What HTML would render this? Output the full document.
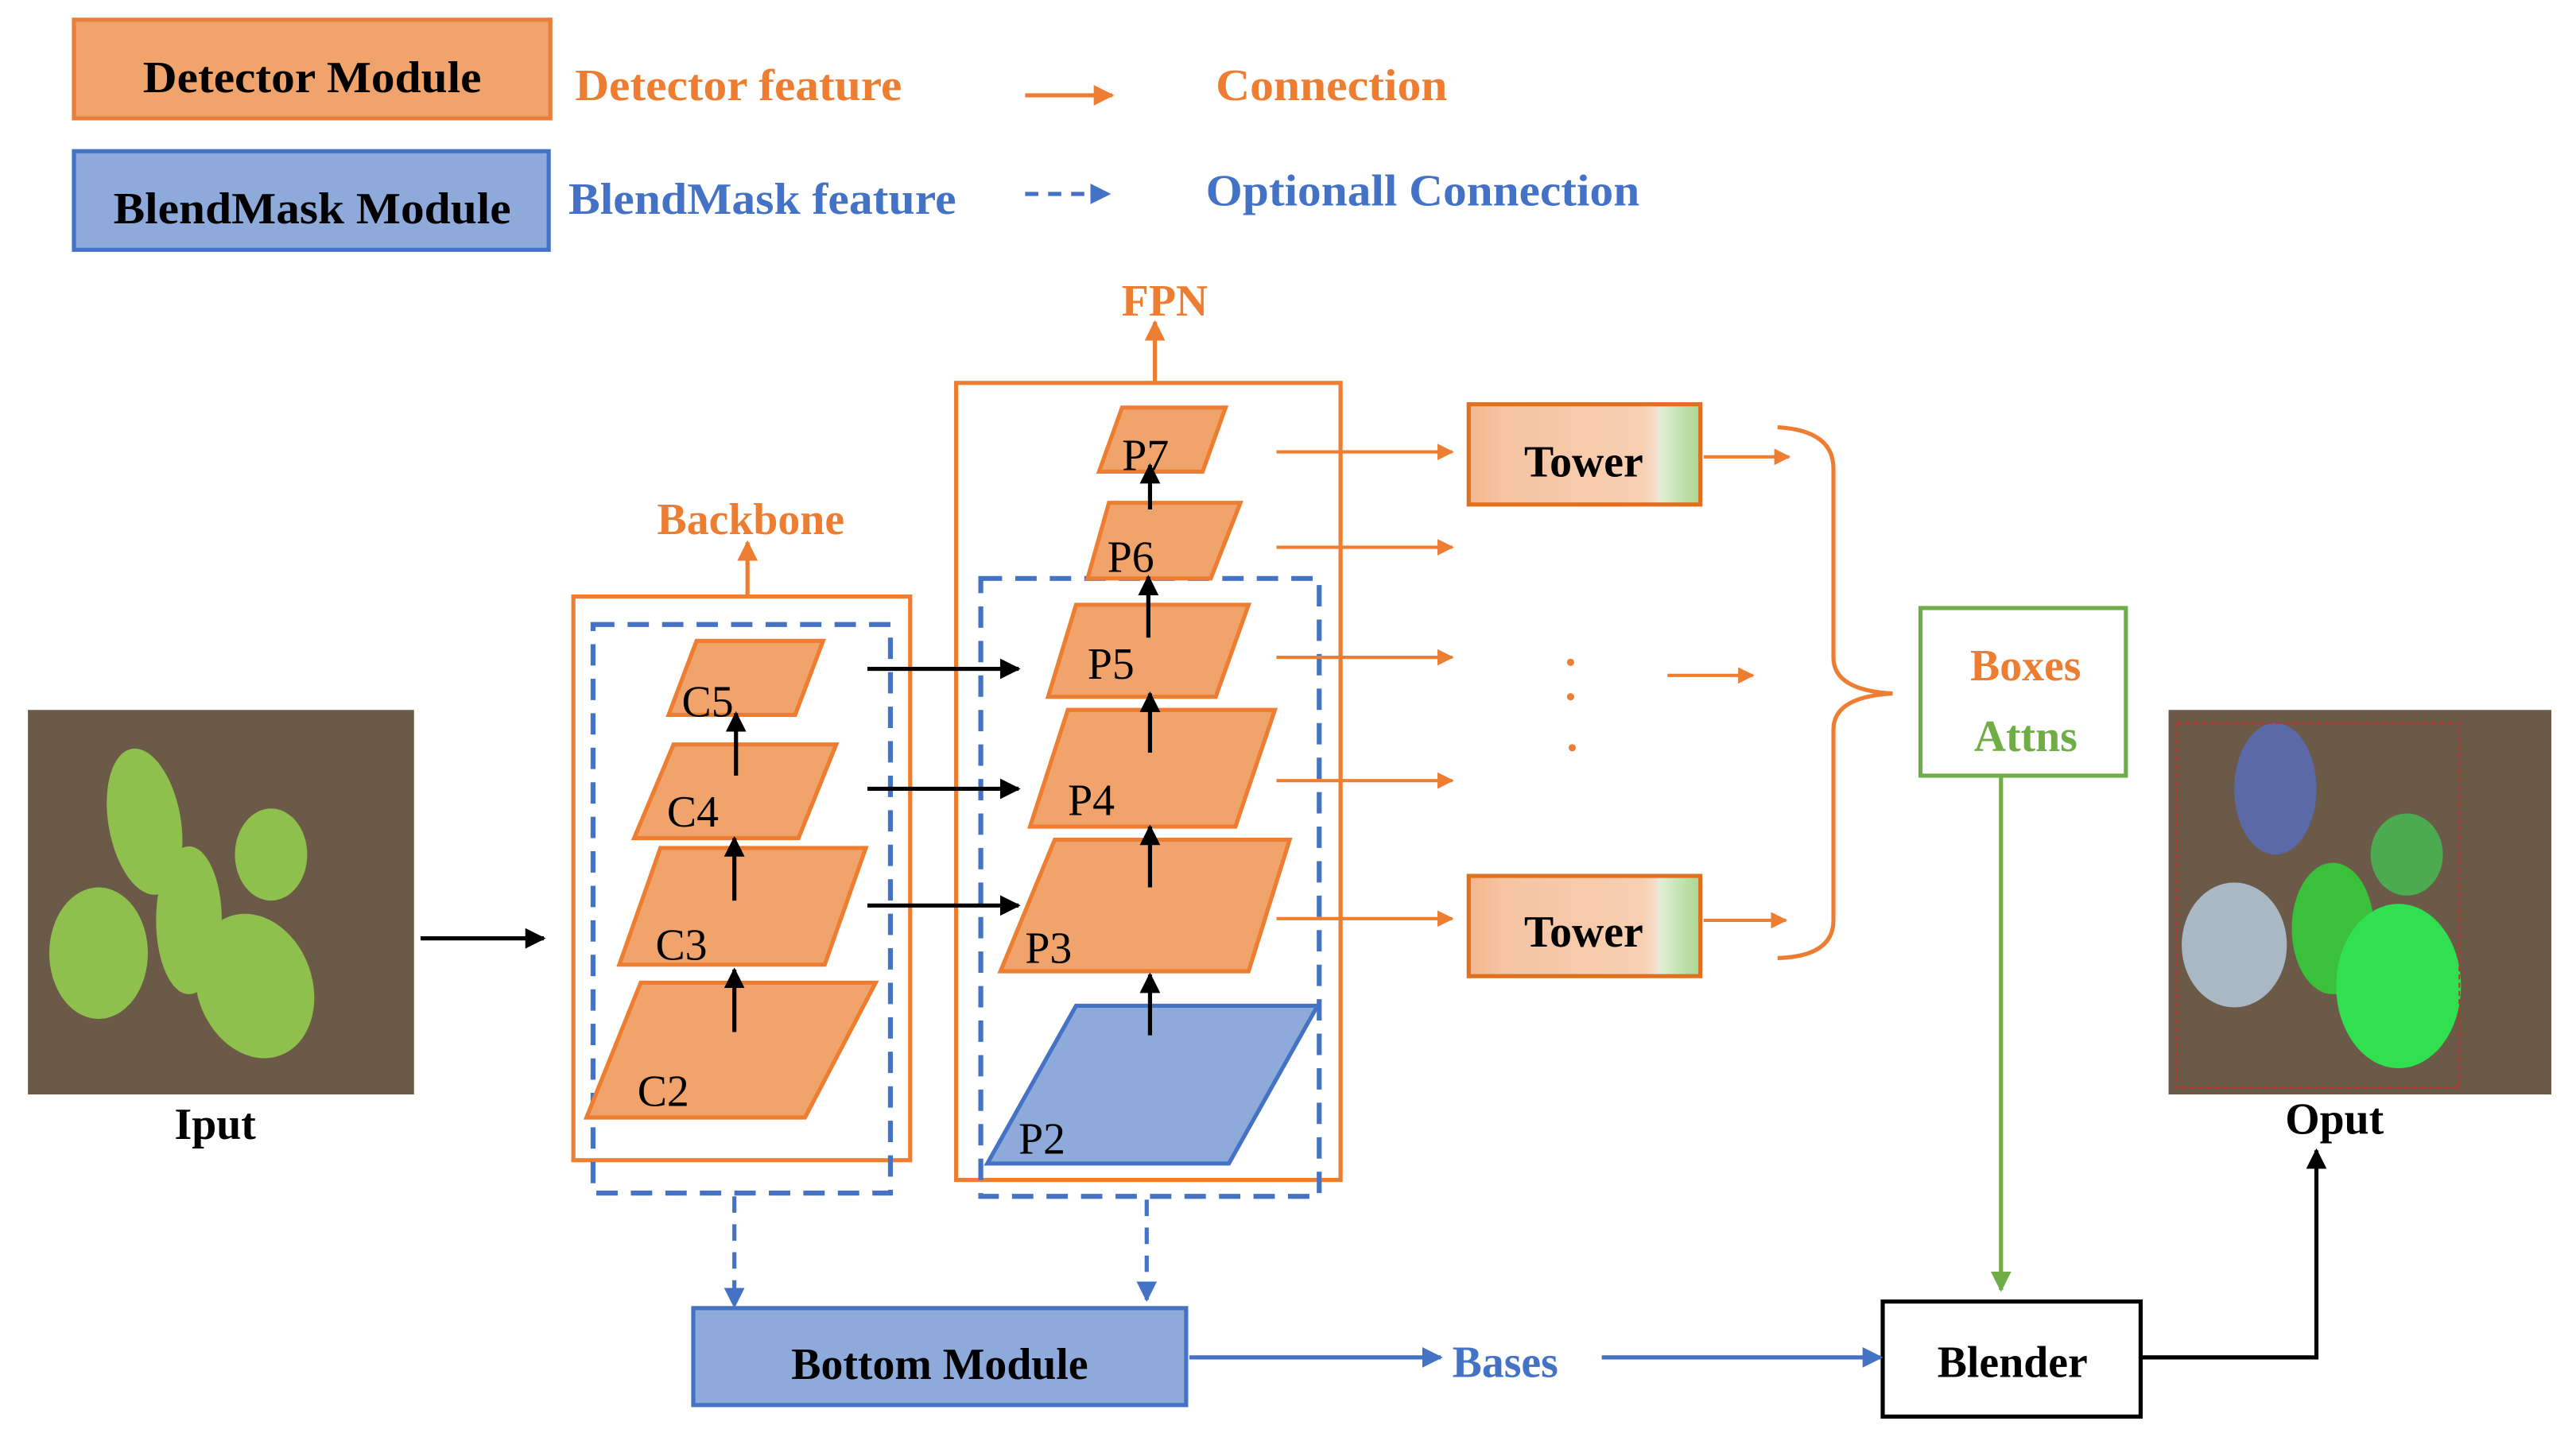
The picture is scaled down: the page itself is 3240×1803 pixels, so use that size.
<!DOCTYPE html>
<html><head><meta charset="utf-8"><style>html,body{margin:0;padding:0;background:#fff}svg{display:block}</style></head>
<body>
<svg width="3240" height="1803" viewBox="0 0 1568 872" preserveAspectRatio="none" xmlns="http://www.w3.org/2000/svg" font-family="Liberation Serif, serif">
<defs>
<marker id="ao" viewBox="0 0 10 10" refX="9" refY="5" markerWidth="5" markerHeight="5" orient="auto"><path d="M0,0L10,5L0,10z" fill="#ed7d31"/></marker>
<marker id="ab" viewBox="0 0 10 10" refX="9" refY="5" markerWidth="5" markerHeight="5" orient="auto"><path d="M0,0L10,5L0,10z" fill="#000"/></marker>
<marker id="abl" viewBox="0 0 10 10" refX="9" refY="5" markerWidth="5" markerHeight="5" orient="auto"><path d="M0,0L10,5L0,10z" fill="#4472c4"/></marker>
<marker id="ag" viewBox="0 0 10 10" refX="9" refY="5" markerWidth="5" markerHeight="5" orient="auto"><path d="M0,0L10,5L0,10z" fill="#70ad47"/></marker>
<linearGradient id="tg" x1="0" x2="1" y1="0" y2="0">
<stop offset="0" stop-color="#f4b68c"/><stop offset="0.15" stop-color="#f5c4a2"/><stop offset="0.75" stop-color="#f6cfb2"/><stop offset="0.82" stop-color="#f8e0d0"/><stop offset="0.82" stop-color="#e0f0d8"/><stop offset="1" stop-color="#a9d68e"/></linearGradient>
</defs>
<g font-size="27" font-weight="bold">
<rect x="45" y="12" width="290" height="60" fill="#f0a46c" stroke="#e87e3a" stroke-width="2.5"/>
<text x="190" y="56" text-anchor="middle" textLength="206" lengthAdjust="spacingAndGlyphs">Detector Module</text>
<rect x="45" y="92" width="289" height="60" fill="#8eaadb" stroke="#4472c4" stroke-width="2.5"/>
<text x="190" y="136" text-anchor="middle" textLength="242" lengthAdjust="spacingAndGlyphs">BlendMask Module</text>
<text x="350" y="61" fill="#ed7d31" textLength="199" lengthAdjust="spacingAndGlyphs">Detector feature</text>
<text x="740" y="61" fill="#ed7d31" textLength="141" lengthAdjust="spacingAndGlyphs">Connection</text>
<text x="346" y="130" fill="#4472c4" textLength="236" lengthAdjust="spacingAndGlyphs">BlendMask feature</text>
<text x="734" y="125" fill="#4472c4" textLength="264" lengthAdjust="spacingAndGlyphs">Optionall Connection</text>
</g>
<line x1="624" y1="58" x2="677" y2="58" stroke="#ed7d31" stroke-width="2.5" marker-end="url(#ao)"/>
<line x1="624" y1="118" x2="675" y2="118" stroke="#4472c4" stroke-width="2.5" stroke-dasharray="8,6" marker-end="url(#abl)"/>
<text x="709" y="192" text-anchor="middle" font-size="27" font-weight="bold" fill="#ed7d31">FPN</text>
<line x1="703" y1="233" x2="703" y2="196" stroke="#ed7d31" stroke-width="2.5" marker-end="url(#ao)"/>
<rect x="582" y="233" width="234" height="485" fill="none" stroke="#ed7d31" stroke-width="2.5"/>
<text x="457" y="325" text-anchor="middle" font-size="27" font-weight="bold" fill="#ed7d31">Backbone</text>
<line x1="455" y1="363" x2="455" y2="330" stroke="#ed7d31" stroke-width="2.5" marker-end="url(#ao)"/>
<rect x="349" y="363" width="205" height="343" fill="none" stroke="#ed7d31" stroke-width="2.5"/>
<rect x="361" y="380" width="181" height="346" fill="none" stroke="#4472c4" stroke-width="3" stroke-dasharray="13,8"/>
<rect x="597" y="352" width="206" height="376" fill="none" stroke="#4472c4" stroke-width="3" stroke-dasharray="13,8"/>
<g fill="#f0a46c" stroke="#ed7d31" stroke-width="2.5">
<polygon points="424,390 501,390 484,435 407,435"/>
<polygon points="410,453 509,453 486,510 386,510"/>
<polygon points="402,516 527,516 502,587 377,587"/>
<polygon points="390,598 533,598 490,680 357,680"/>
<polygon points="683,248 746,248 732,287 669,287"/>
<polygon points="675,306 755,306 737,352 662,352"/>
<polygon points="655,368 760,368 740,424 638,424"/>
<polygon points="650,432 776,432 752,503 627,503"/>
<polygon points="642,511 785,511 760,591 609,591"/>
</g>
<polygon points="655,612 802,612 748,708 601,708" fill="#8eaadb" stroke="#4472c4" stroke-width="2.5"/>
<g font-size="27">
<text x="415" y="436">C5</text><text x="406" y="503">C4</text><text x="399" y="584">C3</text><text x="388" y="673">C2</text>
<text x="683" y="286">P7</text><text x="674" y="348">P6</text><text x="662" y="413">P5</text><text x="650" y="496">P4</text><text x="624" y="586">P3</text><text x="620" y="702">P2</text>
</g>
<g stroke="#000" stroke-width="2.5" marker-end="url(#ab)">
<line x1="447" y1="628" x2="447" y2="590"/>
<line x1="447" y1="548" x2="447" y2="510"/>
<line x1="448" y1="472" x2="448" y2="434"/>
<line x1="700" y1="630" x2="700" y2="593"/>
<line x1="700" y1="540" x2="700" y2="503"/>
<line x1="700" y1="458" x2="700" y2="422"/>
<line x1="699" y1="388" x2="699" y2="351"/>
<line x1="700" y1="310" x2="700" y2="283"/>
<line x1="528" y1="407" x2="620" y2="407"/>
<line x1="528" y1="480" x2="620" y2="480"/>
<line x1="528" y1="551" x2="620" y2="551"/>
<line x1="256" y1="571" x2="331" y2="571"/>
</g>
<g stroke="#ed7d31" stroke-width="2" marker-end="url(#ao)">
<line x1="777" y1="275" x2="884" y2="275"/>
<line x1="777" y1="333" x2="884" y2="333"/>
<line x1="777" y1="400" x2="884" y2="400"/>
<line x1="777" y1="475" x2="884" y2="475"/>
<line x1="777" y1="559" x2="884" y2="559"/>
<line x1="1037" y1="278" x2="1089" y2="278"/>
<line x1="1037" y1="560" x2="1087" y2="560"/>
<line x1="1015" y1="411" x2="1067" y2="411"/>
</g>
<rect x="894" y="246" width="141" height="61" fill="url(#tg)" stroke="#e0701e" stroke-width="2.5"/>
<text x="964" y="290" text-anchor="middle" font-size="27" font-weight="bold">Tower</text>
<rect x="894" y="533" width="141" height="61" fill="url(#tg)" stroke="#e0701e" stroke-width="2.5"/>
<text x="964" y="576" text-anchor="middle" font-size="27" font-weight="bold">Tower</text>
<g fill="#ed7d31"><circle cx="956" cy="403" r="2.2"/><circle cx="956" cy="424" r="2.2"/><circle cx="957" cy="455" r="2.2"/></g>
<path d="M1082,260 Q1116,262 1116,285 L1116,400 Q1116,420 1152,422 Q1116,424 1116,444 L1116,560 Q1116,582 1082,583" fill="none" stroke="#ed7d31" stroke-width="2.5"/>
<rect x="1169" y="370" width="125" height="102" fill="#fff" stroke="#70ad47" stroke-width="2.5"/>
<text x="1233" y="414" text-anchor="middle" font-size="27" font-weight="bold" fill="#ed7d31">Boxes</text>
<text x="1233" y="457" text-anchor="middle" font-size="27" font-weight="bold" fill="#70ad47">Attns</text>
<line x1="1218" y1="472" x2="1218" y2="785" stroke="#70ad47" stroke-width="2.5" marker-end="url(#ag)"/>
<rect x="1146" y="792" width="157" height="70" fill="#fff" stroke="#000" stroke-width="2.5"/>
<text x="1225" y="838" text-anchor="middle" font-size="27" font-weight="bold">Blender</text>
<polyline points="1303,826 1410,826 1410,700" fill="none" stroke="#000" stroke-width="2.5" marker-end="url(#ab)"/>
<rect x="422" y="796" width="300" height="59" fill="#8eaadb" stroke="#4472c4" stroke-width="2.5"/>
<text x="572" y="839" text-anchor="middle" font-size="27" font-weight="bold">Bottom Module</text>
<g stroke="#4472c4" stroke-width="2.5" stroke-dasharray="10,7" marker-end="url(#abl)">
<line x1="447" y1="728" x2="447" y2="795"/>
<line x1="698" y1="730" x2="698" y2="791"/>
</g>
<line x1="724" y1="826" x2="877" y2="826" stroke="#4472c4" stroke-width="2.5" marker-end="url(#abl)"/>
<text x="884" y="838" font-size="27" font-weight="bold" fill="#4472c4">Bases</text>
<line x1="975" y1="826" x2="1145" y2="826" stroke="#4472c4" stroke-width="2.5" marker-end="url(#abl)"/>
<rect x="17" y="432" width="235" height="234" fill="#6b5a48"/>
<g fill="#8fc04e">
<ellipse cx="88" cy="500" rx="22" ry="45" transform="rotate(-10 88 500)"/>
<ellipse cx="165" cy="520" rx="22" ry="28"/>
<ellipse cx="60" cy="580" rx="30" ry="40"/>
<ellipse cx="155" cy="600" rx="35" ry="45" transform="rotate(-20 155 600)"/>
<ellipse cx="115" cy="560" rx="20" ry="45"/>
</g>
<text x="131" y="693" text-anchor="middle" font-size="27" font-weight="bold">Iput</text>
<rect x="1320" y="432" width="233" height="234" fill="#6b5a48"/>
<ellipse cx="1385" cy="480" rx="25" ry="40" fill="#5a6aa8"/>
<ellipse cx="1360" cy="575" rx="32" ry="38" fill="#a9b8c4"/>
<ellipse cx="1465" cy="520" rx="22" ry="25" fill="#4caa50"/>
<ellipse cx="1420" cy="565" rx="25" ry="40" fill="#3ac03a"/>
<ellipse cx="1460" cy="600" rx="38" ry="50" fill="#30e050"/>
<rect x="1325" y="440" width="172" height="222" fill="none" stroke="#c03030" stroke-width="1" stroke-dasharray="3,2"/>
<text x="1421" y="690" text-anchor="middle" font-size="27" font-weight="bold">Oput</text>
</svg>
</body></html>
